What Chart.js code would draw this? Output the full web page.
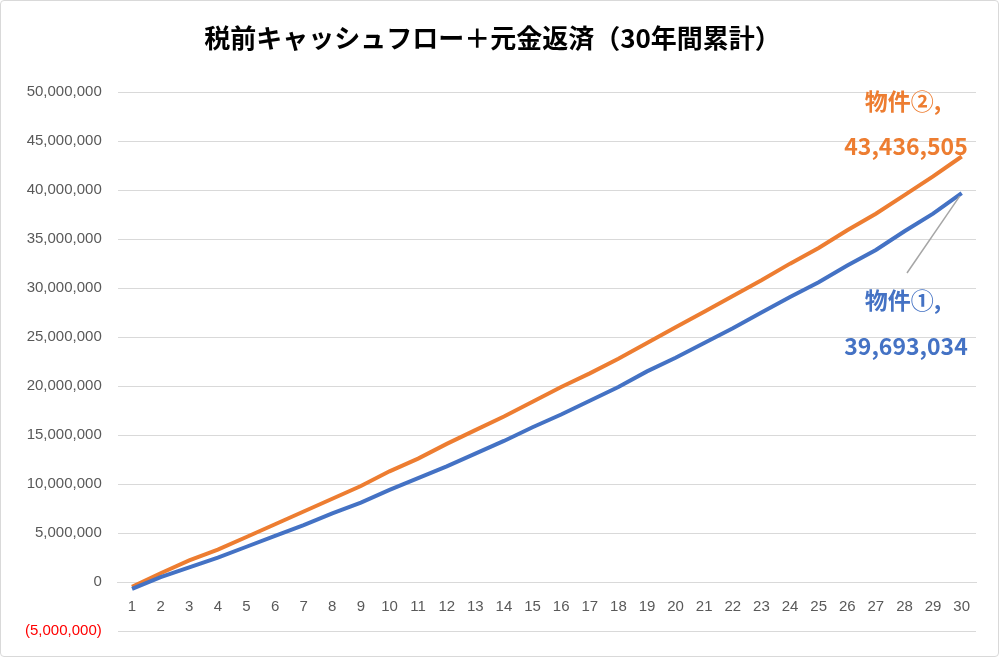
<!DOCTYPE html>
<html>
<head>
<meta charset="utf-8">
<script src="https://cdn.jsdelivr.net/npm/chart.js@4"></script>
<style>
  body { margin: 0; background: #fff; }
  #wrap { width: 997px; height: 655px; border: 1px solid #d9d9d9; border-radius: 4px; }
</style>
</head>
<body>
<div id="wrap"><canvas id="c" width="997" height="655"></canvas></div>
<script>
const years = Array.from({ length: 30 }, (_, i) => String(i + 1));
const property1 = [-700000, 500000, 1500000, 2500000, 3600000, 4700000, 5800000, 7000000, 8100000, 9400000,
  10600000, 11800000, 13100000, 14400000, 15800000, 17100000, 18500000, 19900000, 21500000, 22900000,
  24400000, 25900000, 27500000, 29100000, 30600000, 32300000, 33900000, 35800000, 37600000, 39693034];
const property2 = [-500000, 900000, 2200000, 3300000, 4600000, 5900000, 7200000, 8500000, 9800000, 11300000,
  12600000, 14100000, 15500000, 16900000, 18400000, 19900000, 21300000, 22800000, 24400000, 26000000,
  27600000, 29200000, 30800000, 32500000, 34100000, 35900000, 37600000, 39500000, 41400000, 43436505];
const seriesNames = ['物件①', '物件②'];
const blue = '#4472c4', orange = '#ed7d31';
const font = '"Liberation Sans", "Noto Sans CJK JP", sans-serif';

function fmt(v) {
  const s = Math.abs(v).toLocaleString('en-US');
  return v < 0 ? '(' + s + ')' : s;
}

// end labels, like Excel data labels
const endLabels = {
  id: 'endLabels',
  afterDatasetsDraw(chart) {
    const ctx = chart.ctx;
    const p1 = chart.getDatasetMeta(0).data[29];
    ctx.save();
    ctx.strokeStyle = '#a6a6a6';
    ctx.lineWidth = 1.5;
    ctx.beginPath();
    ctx.moveTo(p1.x - 2, p1.y + 3);
    ctx.lineTo(906, 272);
    ctx.stroke();
    ctx.font = 'bold 23px "Noto Sans CJK JP", sans-serif';
    ctx.textAlign = 'center';
    ctx.textBaseline = 'middle';
    ctx.fillStyle = orange;
    ctx.fillText(seriesNames[1] + ',', 902, 100);
    ctx.fillText(fmt(property2[29]), 905, 145);
    ctx.fillStyle = blue;
    ctx.fillText(seriesNames[0] + ',', 902, 299);
    ctx.fillText(fmt(property1[29]), 905, 345);
    ctx.restore();
  }
};

new Chart(document.getElementById('c'), {
  type: 'line',
  data: {
    labels: years,
    datasets: [
      { label: seriesNames[0], data: property1, borderColor: blue, borderWidth: 4, pointRadius: 0, tension: 0 },
      { label: seriesNames[1], data: property2, borderColor: orange, borderWidth: 4, pointRadius: 0, tension: 0 }
    ]
  },
  options: {
    responsive: false,
    animation: false,
    layout: { padding: { left: 8, right: 22, top: 0, bottom: 14 } },
    plugins: {
      legend: { display: false },
      tooltip: { enabled: false },
      title: {
        display: true,
        text: '税前キャッシュフロー＋元金返済（30年間累計）',
        color: '#000',
        font: { family: '"Noto Sans CJK JP", sans-serif', size: 26, weight: 'bold' },
        padding: { top: 22, bottom: 38 }
      }
    },
    scales: {
      x: {
        position: { y: 0 },
        offset: true,
        grid: { display: false, drawTicks: false },
        border: { color: '#d9d9d9' },
        ticks: { color: '#595959', font: { family: font, size: 15 }, padding: 16, maxRotation: 0, autoSkip: false }
      },
      y: {
        min: -5000000,
        max: 50000000,
        grid: { color: '#d9d9d9', drawTicks: false },
        border: { display: false },
        ticks: {
          stepSize: 5000000,
          padding: 16,
          font: { family: font, size: 15 },
          color: ctx => ctx.tick.value < 0 ? '#ff0000' : '#595959',
          callback: v => fmt(v)
        }
      }
    }
  },
  plugins: [endLabels]
});
</script>
</body>
</html>
